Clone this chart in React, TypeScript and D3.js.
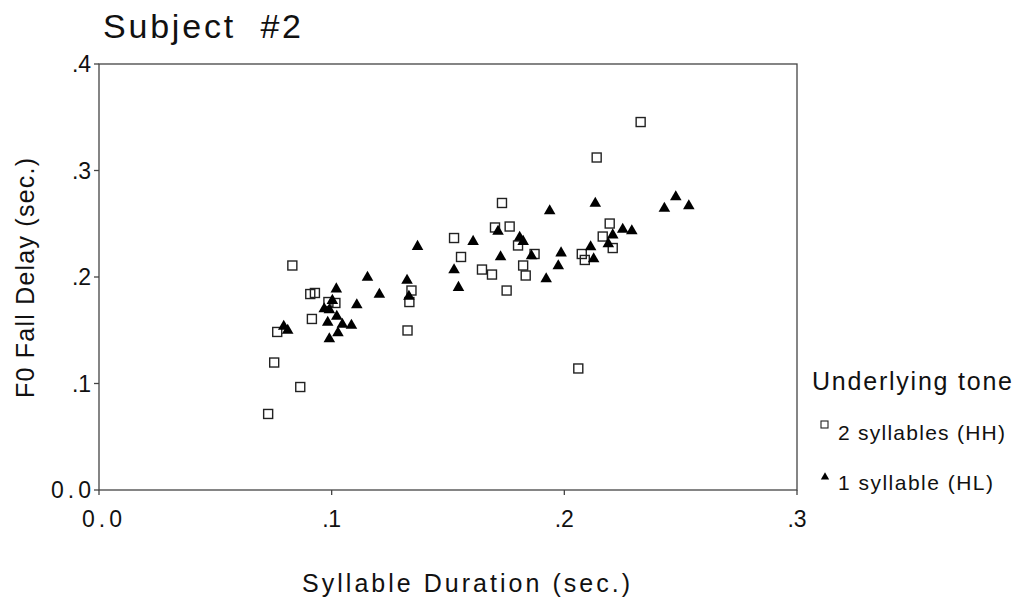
import React from "react";
import * as d3 from "d3";

// 2 syllables (HH): [duration, delay]
const hhDuration = [0.0727, 0.0753, 0.0766, 0.0831, 0.0865, 0.0908, 0.0928, 0.0915, 0.0986, 0.1016, 0.1326, 0.1334, 0.1343, 0.1526, 0.1556, 0.1646, 0.1689, 0.1702, 0.1732, 0.1752, 0.1765, 0.1801, 0.1823, 0.1834, 0.1872, 0.2060, 0.2075, 0.2088, 0.2139, 0.2165, 0.2195, 0.2208, 0.2328];
const hhDelay = [0.0714, 0.1197, 0.1484, 0.2108, 0.0967, 0.1840, 0.1850, 0.1606, 0.1765, 0.1756, 0.1498, 0.1765, 0.1873, 0.2366, 0.2188, 0.2070, 0.2023, 0.2465, 0.2695, 0.1873, 0.2474, 0.2296, 0.2108, 0.2014, 0.2216, 0.1141, 0.2216, 0.2160, 0.3122, 0.2380, 0.2502, 0.2272, 0.3455];

// 1 syllable (HL)
const hlDuration = [0.0794, 0.0811, 0.0968, 0.0990, 0.1003, 0.1020, 0.1022, 0.0983, 0.1046, 0.1085, 0.1027, 0.0990, 0.1108, 0.1154, 0.1205, 0.1324, 0.1332, 0.1369, 0.1526, 0.1545, 0.1608, 0.1715, 0.1726, 0.1808, 0.1823, 0.1859, 0.1922, 0.1937, 0.1974, 0.1986, 0.2113, 0.2126, 0.2133, 0.2189, 0.2208, 0.2251, 0.2290, 0.2430, 0.2479, 0.2535];
const hlDelay = [0.1535, 0.1498, 0.1700, 0.1690, 0.1779, 0.1887, 0.1629, 0.1573, 0.1554, 0.1545, 0.1474, 0.1418, 0.1737, 0.1995, 0.1836, 0.1967, 0.1817, 0.2286, 0.2066, 0.1901, 0.2333, 0.2427, 0.2188, 0.2371, 0.2333, 0.2197, 0.1981, 0.2620, 0.2103, 0.2225, 0.2282, 0.2169, 0.2690, 0.2310, 0.2394, 0.2446, 0.2432, 0.2643, 0.2751, 0.2667];

const xTicks = [0, 0.1, 0.2, 0.3];
const xTickLabels = ["0.0", ".1", ".2", ".3"];
const yTicks = [0, 0.1, 0.2, 0.3, 0.4];
const yTickLabels = ["0.0", ".1", ".2", ".3", ".4"];

const FONT = "'Liberation Sans', Arial, Helvetica, sans-serif";

export default function App() {
  const left = 99, right = 797, top = 64, bottom = 490;
  const x = d3.scaleLinear().domain([0, 0.3]).range([left, right]);
  const y = d3.scaleLinear().domain([0, 0.4]).range([bottom, top]);
  const tri = d3.symbol().type(d3.symbolTriangle).size(58)();
  const triLegend = d3.symbol().type(d3.symbolTriangle).size(30)();
  const axisColor = "#444";
  const sq = 9;
  const tickLen = (s: string) => (s.length === 3 ? 40 : 19);

  return (
    <svg width={1017} height={606} style={{ position: "absolute", left: 0, top: 0, background: "#fff" }} fontFamily={FONT}>
      <rect x={0} y={0} width={1017} height={606} fill="#fff" />
      <text x={103} y={38} fontSize={34} fill="#111" textLength={198} lengthAdjust="spacing" style={{ whiteSpace: "pre" }}>Subject  #2</text>

      {/* frame */}
      <rect x={left} y={top} width={right - left} height={bottom - top} fill="none" stroke={axisColor} strokeWidth={1.3} />

      {/* y ticks */}
      {yTicks.map((t, i) => (
        <g key={"y" + i}>
          <line x1={left - 5} x2={left} y1={y(t)} y2={y(t)} stroke={axisColor} strokeWidth={1.3} />
          <text x={91 - tickLen(yTickLabels[i])} y={y(t) + 8} fontSize={23} fill="#111" textLength={tickLen(yTickLabels[i])} lengthAdjust="spacing">{yTickLabels[i]}</text>
        </g>
      ))}
      {/* x ticks */}
      {xTicks.map((t, i) => (
        <g key={"x" + i}>
          <line x1={x(t)} x2={x(t)} y1={bottom} y2={bottom + 5} stroke={axisColor} strokeWidth={1.3} />
          <text x={x(t) + (i === 0 ? 3 : 0) - tickLen(xTickLabels[i]) / 2} y={bottom + 37} fontSize={23} fill="#111" textLength={tickLen(xTickLabels[i])} lengthAdjust="spacing">{xTickLabels[i]}</text>
        </g>
      ))}

      <text x={302} y={592} fontSize={25} fill="#111" textLength={328} lengthAdjust="spacing">Syllable Duration (sec.)</text>
      <text transform={`translate(34,398) rotate(-90)`} fontSize={25} fill="#111" textLength={240} lengthAdjust="spacing">F0 Fall Delay (sec.)</text>

      {/* HH squares */}
      {hhDuration.map((d, i) => (
        <rect key={"s" + i} x={x(d) - sq / 2} y={y(hhDelay[i]) - sq / 2} width={sq} height={sq} fill="none" stroke="#222" strokeWidth={1.4} />
      ))}
      {/* HL triangles */}
      {hlDuration.map((d, i) => (
        <path key={"t" + i} d={tri} transform={`translate(${x(d)},${y(hlDelay[i])})`} fill="#000" />
      ))}

      {/* legend */}
      <text x={812} y={390} fontSize={25} fill="#111" textLength={200} lengthAdjust="spacing">Underlying tone</text>
      <rect x={821} y={421} width={7} height={7} fill="none" stroke="#222" strokeWidth={1.1} />
      <text x={838} y={440} fontSize={21} fill="#111" textLength={167} lengthAdjust="spacing">2 syllables (HH)</text>
      <path d={triLegend} transform="translate(825,477)" fill="#000" />
      <text x={838} y={490} fontSize={21} fill="#111" textLength={155} lengthAdjust="spacing">1 syllable (HL)</text>
    </svg>
  );
}
